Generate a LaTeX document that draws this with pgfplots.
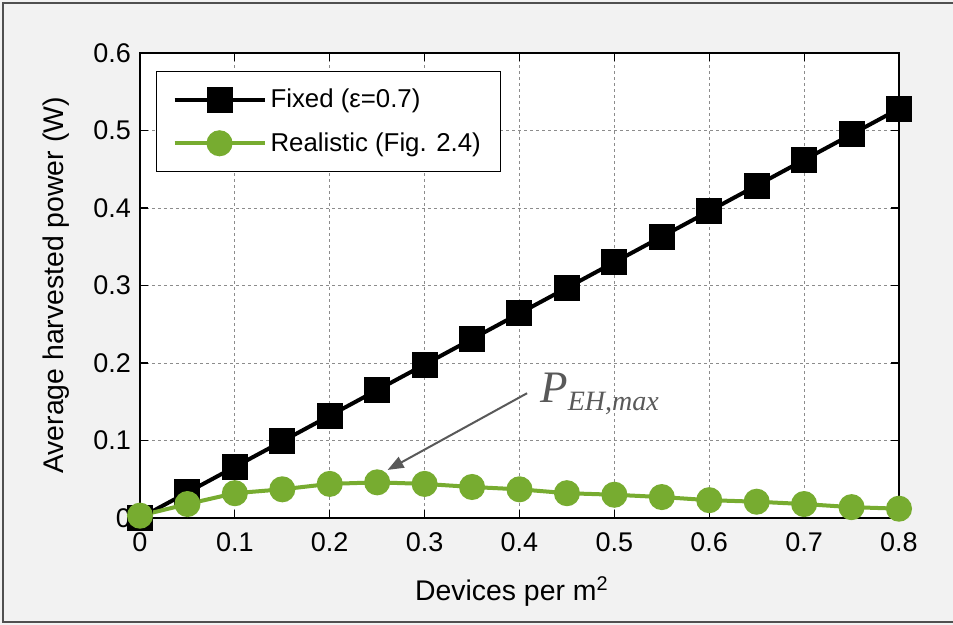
\documentclass[border=0pt]{standalone}
\usepackage{fontspec}
\setmainfont{Liberation Sans}
\newfontfamily\serifit{Liberation Serif}
\usepackage{pgfplots}
\pgfplotsset{compat=1.18}
\usetikzlibrary{arrows.meta}

\definecolor{bggray}{RGB}{242,242,242}
\definecolor{framegray}{RGB}{80,80,80}
\definecolor{mgreen}{RGB}{119,172,48}
\definecolor{annot}{RGB}{89,89,89}

\begin{document}
\begin{tikzpicture}
\useasboundingbox (-70pt,-53.5pt) rectangle (406.5pt,259pt);
\fill[bggray] (-70pt,-53.5pt) rectangle (410pt,259pt);
\draw[framegray, line width=0.7pt] (-68.5pt,-52pt) rectangle (412pt,257.5pt);
\begin{axis}[
  at={(0,0)}, anchor=south west,
  scale only axis,
  width=379.5pt, height=232.5pt,
  xmin=0, xmax=0.8, ymin=0, ymax=0.6,
  xtick={0,0.1,...,0.8}, ytick={0,0.1,...,0.6},
  xticklabels={0,0.1,0.2,0.3,0.4,0.5,0.6,0.7,0.8},
  yticklabels={0,0.1,0.2,0.3,0.4,0.5,0.6},
  /pgf/number format/assume math mode=true,
  ticklabel style={font=\fontsize{13.5}{16}\selectfont},
  xticklabel style={yshift=-4pt},
  yticklabel style={xshift=-1pt},
  tick align=inside, major tick length=4pt,
  tick style={black, line width=0.6pt},
  axis line style={black, line width=0.8pt},
  axis background/.style={fill=white},
  grid=major,
  major grid style={gray!90, dash pattern=on 1.5pt off 1.5pt, line width=0.4pt},
  xlabel={Devices per m\textsuperscript{2}},
  ylabel={Average harvested power (W)},
  label style={font=\fontsize{14.2}{17}\selectfont},
  xlabel style={at={(axis description cs:0.49,0)}, anchor=base, yshift=-41.5pt},
  ylabel style={at={(axis description cs:0,0.5)}, anchor=base, yshift=38pt},
  legend style={at={(0.021,0.961)}, anchor=north west, draw=black, line width=0.6pt,
    font=\fontsize{12.9}{15}\selectfont, inner xsep=8pt, inner ysep=6.5pt,
    row sep=7pt, cells={anchor=west}},
  legend image code/.code={%
    \draw[mark repeat=2, mark phase=2] plot coordinates {(0pt,0pt) (22.5pt,0pt) (45pt,0pt)};},
  clip=false,
]
\addplot[black, line width=2pt, mark=square*, mark size=5.5pt,
  mark options={solid, fill=black}] coordinates {
  (0,0.000) (0.05,0.033) (0.10,0.066) (0.15,0.099) (0.20,0.132) (0.25,0.165)
  (0.30,0.198) (0.35,0.231) (0.40,0.264) (0.45,0.297) (0.50,0.330) (0.55,0.363)
  (0.60,0.396) (0.65,0.429) (0.70,0.462) (0.75,0.495) (0.80,0.528)};
\addlegendentry{Fixed (ε=0.7)}
\addplot[mgreen, line width=2pt, mark=*, mark size=5.5pt,
  mark options={solid, fill=mgreen, draw=mgreen}] coordinates {
  (0,0.003) (0.05,0.018) (0.10,0.032) (0.15,0.037) (0.20,0.044) (0.25,0.046)
  (0.30,0.044) (0.35,0.040) (0.40,0.037) (0.45,0.032) (0.50,0.030) (0.55,0.027)
  (0.60,0.023) (0.65,0.021) (0.70,0.018) (0.75,0.014) (0.80,0.012)};
\addlegendentry{Realistic (Fig. 2.4)}
\draw[annot, line width=1pt, -{Triangle[length=8pt, width=6pt]}]
  (axis cs:0.408,0.161) -- (axis cs:0.261,0.062);
\node[annot, anchor=base west, inner sep=0pt] at (axis cs:0.4215,0.1484)
  {\serifit\itshape\fontsize{22.5}{26}\selectfont P\raisebox{-4pt}{\fontsize{14}{16}\selectfont EH,max}};
\end{axis}
\end{tikzpicture}
\end{document}
